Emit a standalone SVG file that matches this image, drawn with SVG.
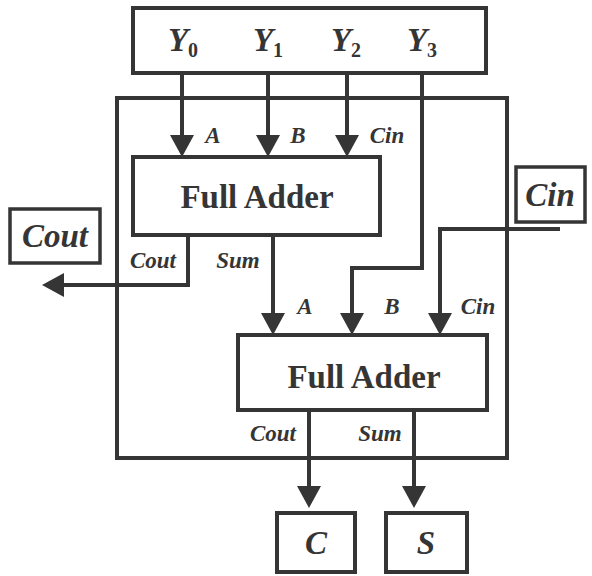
<svg xmlns="http://www.w3.org/2000/svg" width="592" height="576" viewBox="0 0 592 576">
<style>
.box{fill:none;stroke:#353535;stroke-width:4}
.ln{fill:none;stroke:#353535;stroke-width:4}
.big{font-family:"Liberation Serif",serif;font-weight:bold;font-size:33px;fill:#353535;text-anchor:middle}
.it{font-family:"Liberation Serif",serif;font-weight:bold;font-style:italic;fill:#353535;text-anchor:middle}
.sm{font-size:23px}
.lg{font-size:33px}
.sub{font-size:20px;font-style:normal}
</style>
<defs>
<marker id="ah" viewBox="0 0 22 24" refX="16" refY="12" markerWidth="22" markerHeight="24" markerUnits="userSpaceOnUse" orient="auto">
<path d="M0,0 L22,12 L0,24 z" fill="#353535"/>
</marker>
</defs>
<rect width="592" height="576" fill="#fff"/>
<g id="outer"><rect class="box" x="117" y="98" width="390" height="360"/></g>
<g id="inputs">
<rect class="box" x="133" y="8" width="353" height="65"/>
<text class="it lg" x="183" y="51">Y<tspan class="sub" dy="6">0</tspan></text>
<text class="it lg" x="268" y="51">Y<tspan class="sub" dy="6">1</tspan></text>
<text class="it lg" x="346" y="51">Y<tspan class="sub" dy="6">2</tspan></text>
<text class="it lg" x="422" y="51">Y<tspan class="sub" dy="6">3</tspan></text>
</g>
<g id="fa1">
<rect class="box" x="133" y="157" width="247" height="78"/>
<text class="big" x="257" y="208">Full Adder</text>
</g>
<g id="fa2">
<rect class="box" x="238" y="335" width="249" height="75"/>
<text class="big" x="364" y="388">Full Adder</text>
</g>
<g id="coutbox">
<rect class="box" x="10" y="209" width="90" height="54" style="stroke-width:3.5"/>
<text class="it lg" x="55" y="247">Cout</text>
</g>
<g id="cinbox">
<rect class="box" x="516" y="167" width="69" height="55" style="stroke-width:3.5"/>
<text class="it lg" x="550" y="206">Cin</text>
</g>
<g id="cbox">
<rect class="box" x="277" y="513" width="78" height="59"/>
<text class="it lg" x="316" y="554">C</text>
</g>
<g id="sbox">
<rect class="box" x="386" y="513" width="81" height="59"/>
<text class="it lg" x="426" y="554">S</text>
</g>
<g id="connectors">
<path class="ln" d="M182,73 V151" marker-end="url(#ah)"/>
<path class="ln" d="M268,73 V151" marker-end="url(#ah)"/>
<path class="ln" d="M347,73 V151" marker-end="url(#ah)"/>
<path class="ln" d="M422,73 V268 H352 V329" marker-end="url(#ah)"/>
<path class="ln" d="M188,235 V285 H48" marker-end="url(#ah)"/>
<path class="ln" d="M273,235 V329" marker-end="url(#ah)"/>
<path class="ln" d="M560,229 H440 V329" marker-end="url(#ah)"/>
<path class="ln" d="M309,410 V502" marker-end="url(#ah)"/>
<path class="ln" d="M414,410 V502" marker-end="url(#ah)"/>
</g>
<g id="labels">
<text class="it sm" x="213" y="143">A</text>
<text class="it sm" x="298" y="143">B</text>
<text class="it sm" x="387" y="143">Cin</text>
<text class="it sm" x="153" y="268">Cout</text>
<text class="it sm" x="238" y="268">Sum</text>
<text class="it sm" x="305" y="314">A</text>
<text class="it sm" x="392" y="314">B</text>
<text class="it sm" x="478" y="314">Cin</text>
<text class="it sm" x="273" y="441">Cout</text>
<text class="it sm" x="380" y="441">Sum</text>
</g>
</svg>
